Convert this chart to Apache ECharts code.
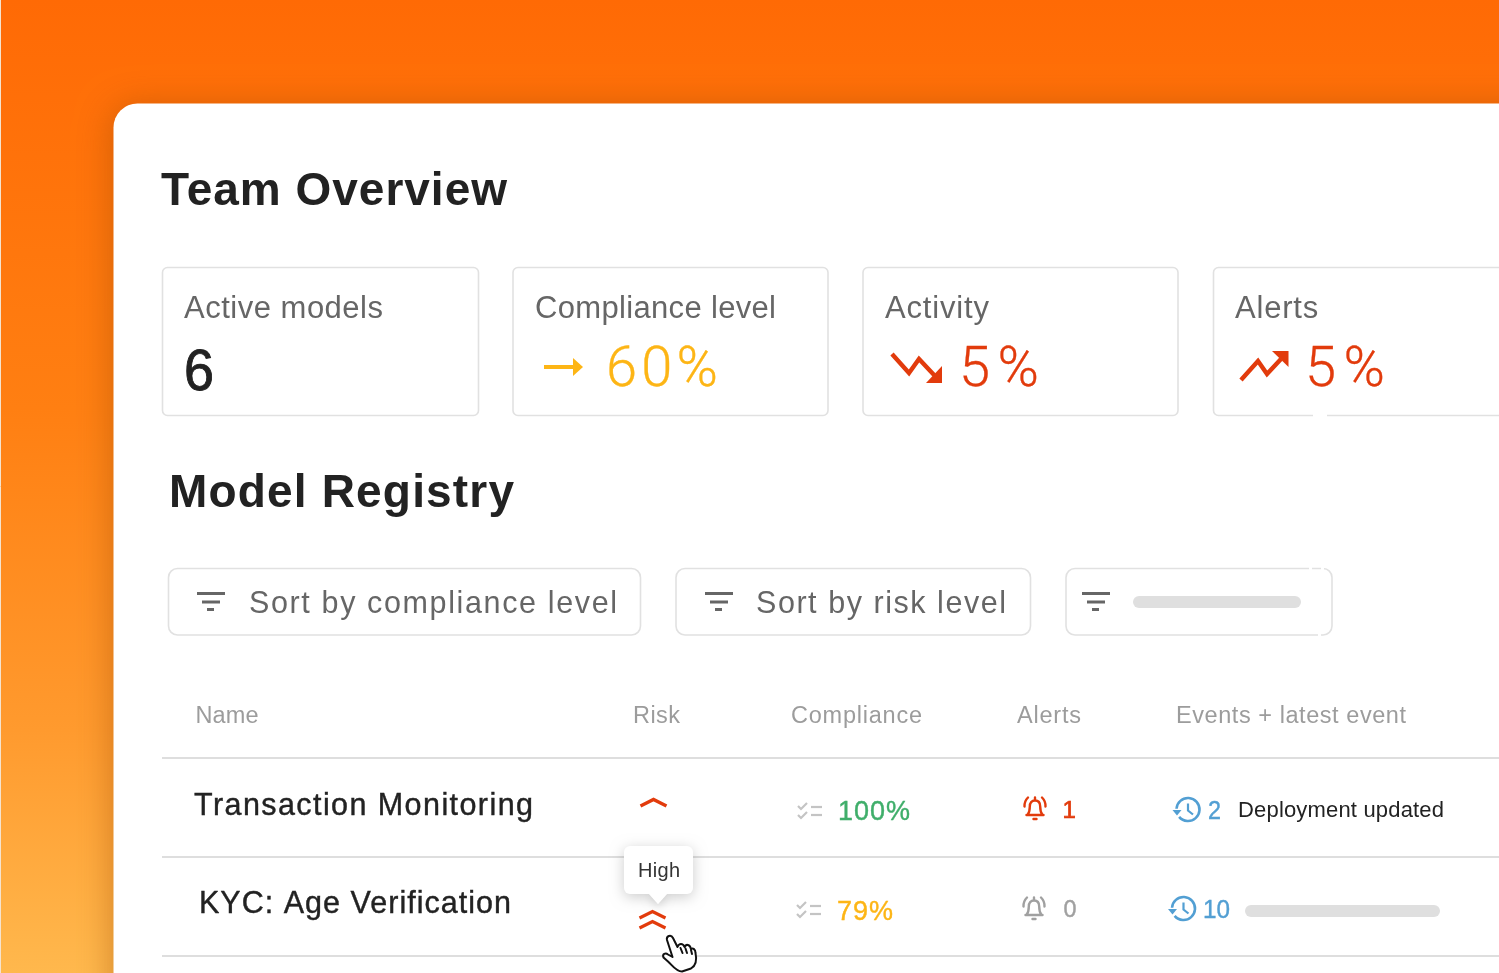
<!DOCTYPE html>
<html><head><meta charset="utf-8">
<style>html,body{margin:0;padding:0;background:#fff}#c{width:1499px;height:973px}</style>
<script src="https://cdn.jsdelivr.net/npm/echarts@6/dist/echarts.min.js"></script>
</head><body><div id="c"></div>
<script>
const pageTitle = 'Team Overview';
const sectionTitle = 'Model Registry';
const cardTitles = ['Active models', 'Compliance level', 'Activity', 'Alerts'];
const cardValues = ['6', '60%', '5%', '5%'];
const sortLabels = ['Sort by compliance level', 'Sort by risk level'];
const tableColumns = ['Name', 'Risk', 'Compliance', 'Alerts', 'Events + latest event'];
const rowNames = ['Transaction Monitoring', 'KYC: Age Verification'];
const rowCompliance = ['100%', '79%'];
const rowAlerts = ['1', '0'];
const rowEvents = ['2', '10'];
const latestEvent = 'Deployment updated';
const tooltipLabel = 'High';

const RED = '#E23B0C', AMBER = '#FDB515', GREEN = '#3FAE6A', BLUE = '#529FD3', GREY = '#A0A0A0',
      LINE = '#E2E2E2', DARK = '#222222', MID = '#666666', SANS = '"Liberation Sans", Arial, sans-serif';

// The reference's type is letter-spaced; zrender has no such option, so the canvas applies it per string.
const spacing = {};
const nativeFill = CanvasRenderingContext2D.prototype.fillText;
const nativeStroke = CanvasRenderingContext2D.prototype.strokeText;
CanvasRenderingContext2D.prototype.fillText = function (s, x, y, m) {
  this.letterSpacing = (spacing[s] || 0) + 'px';
  return m === undefined ? nativeFill.call(this, s, x, y) : nativeFill.call(this, s, x, y, m);
};
CanvasRenderingContext2D.prototype.strokeText = function (s, x, y, m) {
  this.letterSpacing = (spacing[s] || 0) + 'px';
  return m === undefined ? nativeStroke.call(this, s, x, y) : nativeStroke.call(this, s, x, y, m);
};

const mctx = document.createElement('canvas').getContext('2d');
const els = [];
function T(text, x, base, size, color, width, opt) {
  opt = opt || {};
  const weight = opt.weight || 'normal', fam = opt.family || SANS;
  const font = weight + ' ' + size + 'px ' + fam;
  mctx.font = font;
  const w = mctx.measureText(text).width;
  let sx = 1;
  if (width && width > w && text.length > 1) spacing[text] = (width - w) / (text.length - 1);
  else if (width) sx = width / w;
  els.push({ type: 'text', x: x, y: base - 0.24 * size - 1.5, scaleX: sx, silent: true,
    style: { text: text, x: 0, y: 0, font: font, fill: color, align: 'left', verticalAlign: 'middle',
             stroke: opt.stroke ? color : null, lineWidth: opt.stroke || 0 } });
}
function R(x, y, w, h, r, fill, stroke, lw, extra) {
  els.push({ type: 'rect', silent: true, shape: { x, y, width: w, height: h, r },
    style: Object.assign({ fill: fill || 'transparent', stroke: stroke || null, lineWidth: lw || 0 }, extra || {}) });
}
function L(x1, y1, x2, y2, color, lw) {
  els.push({ type: 'line', silent: true, shape: { x1, y1, x2, y2 }, style: { stroke: color, lineWidth: lw, lineCap: 'butt' } });
}
function PL(points, color, lw) {
  els.push({ type: 'polyline', silent: true, shape: { points }, style: { stroke: color, lineWidth: lw, fill: null, lineJoin: 'miter' } });
}
function PG(points, color) {
  els.push({ type: 'polygon', silent: true, shape: { points }, style: { fill: color } });
}
function P(shape, x, y, stroke, lw, fill, s) {
  els.push({ type: shape, silent: true, x, y, scaleX: s || 1, scaleY: s || 1,
    style: { stroke, lineWidth: lw, fill: fill || null, lineCap: 'round', lineJoin: 'round' } });
}
echarts.graphic.registerShape('bell', echarts.graphic.extendPath(
  'M4.5 19 C6.5 16.5 6.8 14 6.8 10.5 C6.8 6.5 8.8 4.5 12 4.5 C15.2 4.5 17.2 6.5 17.2 10.5 C17.2 14 17.5 16.5 19.5 19 Z M3.5 19 H20.5 M10.5 23 H13.5 M12 1.5 V4.5 M1.5 10.5 C1.3 7 2.5 4 5 1.5 M22.5 10.5 C22.7 7 21.5 4 19 1.5', {}));
echarts.graphic.registerShape('hand', echarts.graphic.extendPath(
  'M667 940 C666 936 671 934 673 938 L677.5 947 C679 943 683 943 684.5 947 C686 943.5 690 944.5 691 949 C693 947.5 695.5 949.5 695.5 953 C697 960 695.5 966 691 968.5 L682 971.5 C676 971.5 672 965 668 961.5 L663.5 957.5 C662 954 665.5 952.5 668 954.5 L672.5 957 Z M680.5 948 L682.5 953 M685.5 948.5 L687 953 M691 950 L692 954', {}));

// page
R(0, 0, 1499, 973, 0, { type: 'linear', x: 0, y: 0, x2: 0, y2: 1, colorStops: [
  { offset: 0, color: '#FF6A05' }, { offset: 0.42, color: '#FF7F12' }, { offset: 0.75, color: '#FF9A2E' }, { offset: 1, color: '#FFB84D' } ] });
L(0.5, 0, 0.5, 973, '#F5E3CF', 1);
els.push({ type: 'rect', silent: true, shape: { x: 113.5, y: 103.5, width: 1500, height: 1000, r: 24 },
  style: { fill: '#FFFFFF', shadowBlur: 34, shadowColor: 'rgba(150,70,0,0.42)', shadowOffsetX: -2, shadowOffsetY: 2 } });

// titles
T(pageTitle, 161, 205, 46, DARK, 346, { weight: 'bold' });
T(sectionTitle, 169, 507, 46, DARK, 345, { weight: 'bold' });

// cards
const cardX = [162.5, 513, 863, 1213.5], cardW = [316, 315, 315, 400], titleX = [184, 535, 885, 1235], titleW = [199, 241, 104, 81];
cardTitles.forEach((t, i) => {
  R(cardX[i], 267.5, cardW[i], 148, 5, '#fff', '#E1E1E1', 1.6);
  T(t, titleX[i], 318.5, 31, MID, titleW[i]);
});
R(1313, 413, 14, 4, 0, '#fff');
T(cardValues[0], 184, 389.5, 57, DARK, 30, { stroke: 0.9 });
T(cardValues[1], 606, 386.5, 56, AMBER, 112, { weight: '300', family: 'Roboto', stroke: 0.3 });
T(cardValues[2], 959, 386.5, 56, RED, 79, { weight: '300', family: 'Roboto', stroke: 0.3 });
T(cardValues[3], 1305, 386.5, 56, RED, 80, { weight: '300', family: 'Roboto', stroke: 0.3 });
L(544, 367, 574, 367, AMBER, 4);
PG([[573, 358], [583, 367], [573, 376]], AMBER);
PL([[892, 354], [909, 373], [919, 359], [935, 376]], RED, 4.4);
PG([[942, 366], [942, 383], [926, 383]], RED);
PL([[1241, 380], [1258, 361], [1267, 374], [1281, 359]], RED, 4.4);
PG([[1272, 351], [1288.5, 351], [1288.5, 367]], RED);

// sort buttons
function filterIcon(x) {
  L(x, 593.5, x + 28, 593.5, MID, 3);
  L(x + 5, 602, x + 23, 602, MID, 3);
  L(x + 10, 609.5, x + 17, 609.5, MID, 3);
}
R(168.5, 568.5, 472, 66.5, 9, '#fff', '#E1E1E1', 1.6); filterIcon(197);
T(sortLabels[0], 249, 613, 30.5, MID, 368);
R(676, 568.5, 354.5, 66.5, 9, '#fff', '#E1E1E1', 1.6); filterIcon(705);
T(sortLabels[1], 756, 613, 30.5, MID, 250);
R(1066, 568.5, 266, 66.5, 9, '#fff', '#E1E1E1', 1.6); filterIcon(1082);
R(1133, 596, 168, 12, 6, '#DFDFDF');
R(1309, 566, 3, 5, 0, '#fff'); R(1321, 566, 3, 5, 0, '#fff'); R(1318, 633, 3, 4, 0, '#fff');

// table
const colX = [195.5, 633, 791, 1017, 1176], colW = [63, 47, 131, 64, 230];
tableColumns.forEach((c, i) => T(c, colX[i], 724, 23.5, '#9C9C9C', colW[i]));
[758, 857, 956].forEach(y => L(162, y, 1499, y, '#DEDEDE', 2));

T(rowNames[0], 194, 815, 30.5, DARK, 339, { stroke: 0.4 });
T(rowNames[1], 199, 913, 30.5, DARK, 312, { stroke: 0.4 });

PL([[640.5, 806], [653.5, 799.5], [666.5, 806]], RED, 3.4);

function checks(x, y) {
  const c = '#C4C4C4';
  PL([[x, y + 3], [x + 3, y + 6], [x + 9, y]], c, 2.2);
  PL([[x, y + 12], [x + 3, y + 15], [x + 9, y + 9]], c, 2.2);
  L(x + 13, y + 4, x + 24, y + 4, c, 2.2);
  L(x + 13, y + 12, x + 24, y + 12, c, 2.2);
}
checks(798, 803); checks(797, 902);
T(rowCompliance[0], 838, 820.5, 27, GREEN, 72, { stroke: 0.4 });
T(rowCompliance[1], 837, 920.5, 27, AMBER, 56, { stroke: 0.4 });

P('bell', 1023, 796, RED, 2.4);
T(rowAlerts[0], 1062.5, 818.5, 24, RED, 0, { stroke: 0.7 });
P('bell', 1022, 896, GREY, 2.4);
T(rowAlerts[1], 1063.5, 917.5, 24, GREY, 13, { stroke: 0.4 });

function history(cx, cy) {
  els.push({ type: 'arc', silent: true, shape: { cx, cy, r: 11.5, startAngle: Math.PI * 1.02, endAngle: Math.PI * 0.78, clockwise: true },
    style: { stroke: BLUE, lineWidth: 2.6, fill: null } });
  PG([[cx - 15.5, cy + 0.5], [cx - 6.5, cy + 0.5], [cx - 11, cy + 6]], BLUE);
  PL([[cx, cy - 6], [cx, cy + 1], [cx + 5, cy + 5]], BLUE, 2.2);
}
history(1188, 809.5); history(1183.5, 908.5);
T(rowEvents[0], 1208, 819.5, 25, BLUE, 13, { stroke: 0.4 });
T(latestEvent, 1238, 817.5, 22, DARK, 206);
T(rowEvents[1], 1203, 918.5, 25, BLUE, 27, { stroke: 0.4 });
R(1245, 905, 195, 12, 6, '#DFDFDF');

// tooltip
els.push({ type: 'polygon', silent: true, shape: { points: [[648, 893], [668, 893], [658, 904]] },
  style: { fill: '#fff', shadowBlur: 8, shadowColor: 'rgba(0,0,0,0.16)', shadowOffsetY: 3 } });
R(624, 846, 69, 48, 6, '#fff', null, 0, { shadowBlur: 14, shadowColor: 'rgba(0,0,0,0.2)', shadowOffsetY: 3 });
PG([[648, 893], [668, 893], [658, 904]], '#fff');
T(tooltipLabel, 638, 878, 20, '#333333', 42);

PL([[639.5, 918], [652.5, 911.5], [665.5, 918]], RED, 3.2);
PL([[639.5, 928], [652.5, 921.5], [665.5, 928]], RED, 3.2);
P('hand', 0, 0, '#111111', 2, '#FFFFFF');

const chart = echarts.init(document.getElementById('c'), null, { renderer: 'canvas' });
chart.setOption({ animation: false, graphic: { elements: els } });
</script></body></html>
